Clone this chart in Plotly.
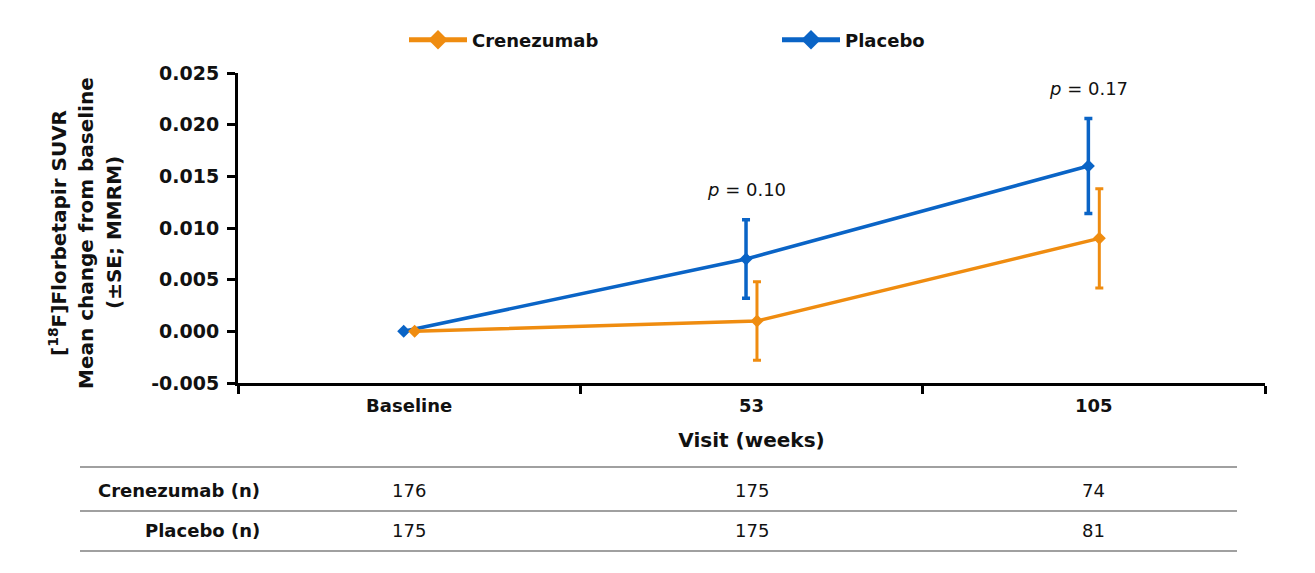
import plotly.graph_objects as go

# ---------------- data ----------------
visits = ["Baseline", "53", "105"]
crenezumab_mean = [0.000, 0.001, 0.009]
crenezumab_se = [0.0, 0.0038, 0.0048]
placebo_mean = [0.000, 0.007, 0.016]
placebo_se = [0.0, 0.0038, 0.0046]
p_values = ["", "0.10", "0.17"]
crenezumab_n = [176, 175, 74]
placebo_n = [175, 175, 81]
y_tickvals = [-0.005, 0.000, 0.005, 0.010, 0.015, 0.020, 0.025]
y_ticktext = ["-0.005", "0.000", "0.005", "0.010", "0.015", "0.020", "0.025"]

# ---------------- layout geometry (page has an 8px body margin) ----------------
OFF = 8
W, H = 1315 - OFF, 573 - OFF
L = 238 - OFF
T = 73 - OFF
R = W - (1265 - OFF)
B = H - (383 - OFF)
PW = W - L - R
PH = H - T - B
B_PIX = H - B


def px_x(x):
    return (x - OFF - L) / PW


def px_y(y):
    return (B_PIX - (y - OFF)) / PH


ORANGE = "#EF8C10"
BLUE = "#0A64C6"
TXT = "#111111"
FONT = "DejaVu Sans"
dodge = 0.016
xpos = list(range(len(visits)))

fig = go.Figure()

# Placebo
fig.add_trace(go.Scatter(
    x=[i - dodge for i in xpos], y=placebo_mean,
    mode="lines+markers", name="Placebo", showlegend=False,
    line=dict(color=BLUE, width=3.5),
    marker=dict(symbol="diamond", size=10, color=BLUE),
    error_y=dict(type="data", array=placebo_se, visible=True,
                 color=BLUE, thickness=3.5, width=4),
))
# Crenezumab
fig.add_trace(go.Scatter(
    x=[i + dodge for i in xpos], y=crenezumab_mean,
    mode="lines+markers", name="Crenezumab", showlegend=False,
    line=dict(color=ORANGE, width=3.5),
    marker=dict(symbol="diamond", size=10, color=ORANGE),
    error_y=dict(type="data", array=crenezumab_se, visible=True,
                 color=ORANGE, thickness=3, width=4),
))
# legend-only entries
for nm, col in [("Crenezumab", ORANGE), ("Placebo", BLUE)]:
    fig.add_trace(go.Scatter(
        x=[None], y=[None], mode="lines+markers", name=nm,
        line=dict(color=col, width=5),
        marker=dict(symbol="diamond", size=15, color=col),
    ))

# p-value annotations
for i, p in enumerate(p_values):
    if p:
        fig.add_annotation(
            x=xpos[i] - dodge, y=placebo_mean[i] + placebo_se[i],
            xref="x", yref="y", text="<i>p</i> = " + p, showarrow=False,
            yanchor="middle", yshift=30,
            font=dict(family=FONT, size=18, color=TXT),
        )

# y-axis title (three lines)
title_lines = ["[<sup>18</sup>F]Florbetapir SUVR", "Mean change from baseline", "(±SE; MMRM)"]
for k, (line, xp) in enumerate(zip(title_lines, [58, 86, 114])):
    fig.add_annotation(
        x=px_x(xp), y=px_y(233), xref="paper", yref="paper",
        text=line, textangle=-90, showarrow=False,
        xanchor="center", yanchor="middle",
        font=dict(family=FONT, size=20, color=TXT, weight="bold"),
    )

# table below
for ypix in [467, 511, 551]:
    fig.add_shape(type="line", xref="paper", yref="paper",
                  x0=px_x(80), x1=px_x(1237), y0=px_y(ypix), y1=px_y(ypix),
                  line=dict(color="#A0A0A0", width=2))
for label, vals, ypix in [("Crenezumab (n)", crenezumab_n, 490),
                          ("Placebo (n)", placebo_n, 530)]:
    fig.add_annotation(x=px_x(262), y=px_y(ypix), xref="paper", yref="paper",
                       text=label, showarrow=False, xanchor="right", yanchor="middle",
                       font=dict(family=FONT, size=18, color=TXT, weight="bold"))
    for i, v in enumerate(vals):
        fig.add_annotation(x=xpos[i], y=px_y(ypix), xref="x", yref="paper",
                           text=str(v), showarrow=False, xanchor="center", yanchor="middle",
                           font=dict(family=FONT, size=18, color=TXT))

fig.update_layout(
    width=W, height=H,
    margin=dict(l=L, r=R, t=T, b=B, pad=0),
    plot_bgcolor="white", paper_bgcolor="white",
    font=dict(family=FONT, color=TXT),
    legend=dict(orientation="h", x=px_x(404), y=px_y(40), xanchor="left", yanchor="middle",
                font=dict(family=FONT, size=18, color=TXT, weight="bold"),
                itemwidth=58, entrywidth=300, entrywidthmode="pixels",
                bgcolor="rgba(0,0,0,0)"),
    xaxis=dict(
        range=[-0.5, 2.5], tickmode="array", tickvals=xpos, ticktext=visits,
        ticks="", showgrid=False, zeroline=False,
        showline=True, linecolor="black", linewidth=3,
        tickfont=dict(family=FONT, size=18, color=TXT, weight="bold"),
        ticklabelstandoff=4,
        minor=dict(tickmode="array", tickvals=[-0.5, 0.5, 1.5, 2.5],
                   ticks="outside", ticklen=8, tickwidth=3, tickcolor="black", showgrid=False),
        title=dict(text="Visit (weeks)", standoff=19,
                   font=dict(family=FONT, size=20, color=TXT, weight="bold")),
    ),
    yaxis=dict(
        range=[-0.005, 0.025], tickmode="array", tickvals=y_tickvals, ticktext=y_ticktext,
        ticks="outside", ticklen=8, tickwidth=3, tickcolor="black",
        showgrid=False, zeroline=False,
        showline=True, linecolor="black", linewidth=3,
        tickfont=dict(family=FONT, size=19, color=TXT, weight="bold"),
        ticklabelstandoff=4,
    ),
)

fig.write_html("out.html")
